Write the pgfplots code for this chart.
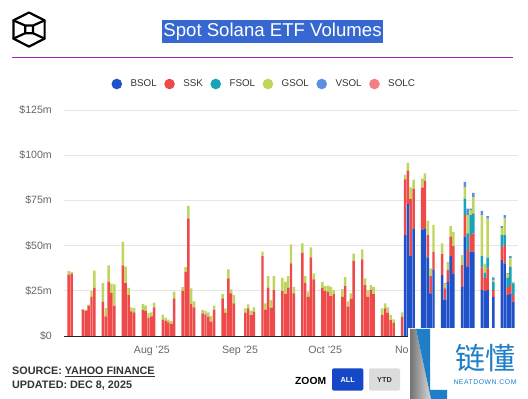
\documentclass[border=0pt]{standalone}
\usepackage{pgfplots}
\pgfplotsset{compat=1.18}
\usepackage{pgfplotstable}
\usepackage{fontspec}
\setmainfont{Liberation Sans}
\newfontfamily\cjk{Noto Sans CJK SC}
\newfontfamily\wmfont[LetterSpace=8]{Liberation Sans}
\definecolor{bsol}{RGB}{31,81,201}
\definecolor{ssk}{RGB}{239,74,74}
\definecolor{fsol}{RGB}{23,163,184}
\definecolor{gsol}{RGB}{191,214,94}
\definecolor{vsol}{RGB}{91,143,227}
\definecolor{solc}{RGB}{244,127,127}
\definecolor{titlebg}{RGB}{55,104,209}
\definecolor{purpleline}{RGB}{156,39,176}
\definecolor{ticktext}{RGB}{102,102,102}
\definecolor{legtext}{RGB}{51,51,51}
\definecolor{gridgray}{RGB}{230,230,230}
\definecolor{darktext}{RGB}{51,51,51}
\definecolor{btnblue}{RGB}{20,72,199}
\definecolor{btngray}{RGB}{220,220,220}
\definecolor{wmblue}{RGB}{30,127,200}

\pgfplotstableread{
d bsol ssk fsol gsol vsol solc
1 0 34 0 2 0 0
2 0 34.5 0 1 0 0
6 0 14.5 0 0.4 0 0
7 0 14.1 0 0.4 0 0
8 0 16.7 0 0.7 0 0
9 0 21.7 0 3.3 0 0
10 0 26.6 0 9.6 0 0
13 0 19 0 10.3 0 0
14 0 10.9 0 4.5 0 0
15 0 29.9 0 9.1 0 0
16 0 23.9 0 5.1 0 0
17 0 16.8 0 11.8 0 0
20 0 39 0 13 0 0
21 0 29.3 0 9.1 0 0
22 0 22.6 0 4 0 0
23 0 13.6 0 2.3 0 0
24 0 13 0 2.4 0 0
27 0 14.5 0 3.1 0 0
28 0 14.1 0 2.7 0 0
29 0 10 0 2.7 0 0
30 0 10.9 0 2.1 0 0
31 0 15.8 0 2.7 0 0
34 0 9 0 2.8 0 0
35 0 8.5 0 1.5 0 0
36 0 7.6 0 1.4 0 0
37 0 6.7 0 1.5 0 0
38 0 20.8 0 3.7 0 0
41 0 25 0 2 0 0
42 0 35.5 0 2.6 0 0
43 0 65 0 7 0 0
44 0 17.8 0 8.5 0 0
45 0 15.8 0 3.3 0 0
48 0 12.5 0 1.9 0 0
49 0 12 0 2 0 0
50 0 10.7 0 2.3 0 0
51 0 7.9 0 3.1 0 0
52 0 14.4 0 2.4 0 0
55 0 20.8 0 2.4 0 0
56 0 12.9 0 2.4 0 0
57 0 31.9 0 4.9 0 0
58 0 23.6 0 2.2 0 0
59 0 18 0 4.6 0 0
63 0 12.9 0 2.4 0 0
64 0 15.3 0 2.2 0 0
65 0 11.6 0 2.4 0 0
66 0 13.4 0 2.4 0 0
69 0 44.2 0 2.4 0 0
70 0 14.4 0 3.6 0 0
71 0 26.7 0 6.4 0 0
72 0 15.7 0 4.2 0 0
73 0 25.4 0 7.7 0 0
76 0 25 0 7.2 0 0
77 0 23.2 0 6.8 0 0
78 0 26.7 0 6.4 0 0
79 0 40.2 0 10.5 0 0
80 0 23.6 0 3.6 0 0
83 0 46 0 5.2 0 0
84 0 29.4 0 3.7 0 0
85 0 21.7 0 2.8 0 0
86 0 43.5 0 5.5 0 0
87 0 31.3 0 3.3 0 0
90 0 26.7 0 3.3 0 0
91 0 25 0 2.6 0 0
92 0 24.5 0 3.3 0 0
93 0 22.1 0 5.1 0 0
94 0 23.2 0 2.2 0 0
97 0 21.7 0 4.2 0 0
98 0 27.6 0 5 0 0
99 0 16.2 0 3 0 0
100 0 20.5 0 3.1 0 0
101 0 41.6 0 4 0 0
104 0 42.4 0 5.5 0 0
105 0 28.2 0 3.7 0 0
106 0 21.7 0 3.7 0 0
107 0 25.4 0 2.8 0 0
108 0 23.2 0 4 0 0
111 0 11.6 0 3.7 0 0
112 0 15.3 0 2.7 0 0
113 0 12.9 0 2.9 0 0
114 0 8.8 0 2.8 0 0
115 0 7.3 0 1.9 0 0
118 0 10.7 0 2.4 0 0
119 55.8 30.8 0 2.5 0 0
120 73 18.3 0 4.4 0 0
121 44.2 31.5 0 6.5 0 0
122 59.5 22 0 5 0 0
125 59 23 0 5 0 0
126 59.5 26.5 0 4 0 0
127 43.5 12.3 0 8 0 0
128 23.6 9.5 0 4.3 0 0
129 36.5 10 0 15 0 0
132 33.7 11.6 0 5.9 0 0
133 19.9 6.4 0 2.2 0 0.8
134 30 6.5 0 4.5 0 0
135 44.2 10.7 0 5.9 0 0
136 34.6 15.1 0 7.9 0 0
139 27.2 12 0 5.5 0 0
140 54.9 12 9.1 6.5 2.7 0
141 38.3 9.2 9.2 10.2 3.6 0
142 46.6 9.2 11.1 2.7 0.9 0
143 46.6 10.1 11.1 9.2 2.2 0
146 25.4 12.6 6.2 22.7 2.3 0
147 25 7 3 5 0 0
148 25.4 12 6 21.5 1.4 0
150 21.7 3.7 4.6 1 1.4 0
153 42 7.3 6.5 3.7 1.3 0
154 40.2 10.1 5.5 9.2 1.9 0
155 22.6 4 5.6 2 0 0.6
156 23.6 4.6 10.1 4.6 1.3 0
157 19 3.6 6.5 0.9 0 0
}\data

\begin{document}
\begin{tikzpicture}
\useasboundingbox (0,0) rectangle (528bp,399bp);
\fill[white] (0,0) rectangle (528bp,399bp);

\begin{scope}[x=1bp,y=-1bp,yshift=399bp]
  % logo
  \draw[line width=2.2bp, line join=round, line cap=round]
    (29,12.5) -- (44.6,20.4) -- (44.6,38.6) -- (29,46.6) -- (13.4,38.6) -- (13.4,20.4) -- cycle;
  \draw[line width=2.2bp, line join=round, line cap=round]
    (25.3,25.6) rectangle (33,33.2)
    (13.4,20.4) -- (25.3,25.6)
    (44.6,20.4) -- (33,25.6)
    (13.4,38.6) -- (25.3,33.2)
    (44.6,38.6) -- (33,33.2);
  % title
  \fill[titlebg] (161.7,20) rectangle (383.3,43.5);
  \node[text=white, inner sep=0pt, font=\fontsize{18.6bp}{21bp}\selectfont] at (272.5,31.6) {Spot Solana ETF Volumes};
  \draw[purpleline, line width=1bp] (12,57.3) -- (513,57.3);
\end{scope}

\begin{axis}[
  at={(64bp,63bp)}, anchor=south west, scale only axis,
  width=454bp, height=226bp,
  ybar stacked, bar width=0.86,
  xmin=-0.65, xmax=158.65, ymin=0, ymax=125,
  ytick={0,25,50,75,100,125},
  yticklabels={\$0,\$25m,\$50m,\$75m,\$100m,\$125m},
  xtick={30.2,61.1,91,121.8},
  xticklabels={Aug '25,Sep '25,Oct '25,Nov '25},
  ymajorgrids, grid style={draw=gridgray, line width=0.7bp},
  axis lines*=left, axis line style={-},
  y axis line style={draw=none},
  x axis line style={draw=black!85, line width=1bp},
  major tick length=0pt,
  tick label style={font=\fontsize{10.6bp}{12bp}\selectfont, text=ticktext},
  yticklabel style={inner sep=0pt, xshift=-12bp},
  xticklabel style={inner sep=0pt, yshift=-10bp},
  legend columns=6,
  legend cell align=left,
  legend style={at={(axis description cs:0.441,1.115)}, anchor=center,
    draw=none, fill=none, inner sep=0pt,
    font=\fontsize{9.8bp}{12bp}\selectfont, text=legtext,
    /tikz/every odd column/.append style={column sep=6.5bp},
    /tikz/every even column/.append style={column sep=5.5bp}},
]
\addplot[fill=bsol, draw=none, legend image code/.code={\fill[bsol] (0bp,0bp) circle (5.3bp);}] table[x=d,y=bsol] {\data};
\addplot[fill=ssk, draw=none, legend image code/.code={\fill[ssk] (0bp,0bp) circle (5.3bp);}] table[x=d,y=ssk] {\data};
\addplot[fill=fsol, draw=none, legend image code/.code={\fill[fsol] (0bp,0bp) circle (5.3bp);}] table[x=d,y=fsol] {\data};
\addplot[fill=gsol, draw=none, legend image code/.code={\fill[gsol] (0bp,0bp) circle (5.3bp);}] table[x=d,y=gsol] {\data};
\addplot[fill=vsol, draw=none, legend image code/.code={\fill[vsol] (0bp,0bp) circle (5.3bp);}] table[x=d,y=vsol] {\data};
\addplot[fill=solc, draw=none, legend image code/.code={\fill[solc] (0bp,0bp) circle (5.3bp);}] table[x=d,y=solc] {\data};
\legend{BSOL,SSK,FSOL,GSOL,VSOL,SOLC}
\end{axis}

\begin{scope}[x=1bp,y=-1bp,yshift=399bp]
  % footer texts
  \node[anchor=base west, inner sep=0pt, text=darktext, font=\bfseries\fontsize{10.8bp}{12bp}\selectfont] at (12,374.6) {SOURCE: \underline{YAHOO FINANCE}};
  \node[anchor=base west, inner sep=0pt, text=darktext, font=\bfseries\fontsize{10.8bp}{12bp}\selectfont] at (12,388.2) {UPDATED: DEC 8, 2025};
  \node[anchor=base west, inner sep=0pt, text=black, font=\bfseries\fontsize{10.3bp}{12bp}\selectfont] at (295,384.4) {ZOOM};
  \fill[btnblue, rounded corners=1.5bp] (332,368.3) rectangle (363.3,390.7);
  \node[text=white, inner sep=0pt, font=\bfseries\fontsize{7.3bp}{9bp}\selectfont] at (347.7,379.6) {ALL};
  \fill[btngray, rounded corners=1.5bp] (369,368.3) rectangle (400,390.7);
  \node[text=darktext, inner sep=0pt, font=\bfseries\fontsize{7.3bp}{9bp}\selectfont] at (384.5,379.6) {YTD};
  % watermark
  \fill[white] (408,328) rectangle (528,399);
  \shade[left color=black!55, right color=black!15] (410,329) -- (416,329) -- (431,399) -- (410,399) -- cycle;
  \fill[wmblue] (416,329) -- (430,329) -- (430,390) -- (447,390) -- (447,399) -- (431,399) -- cycle;
  \node[text=wmblue, inner sep=0pt, font=\cjk\fontsize{30bp}{32bp}\selectfont] at (485,358) {链懂};
  \node[text=wmblue, inner sep=0pt, font=\wmfont\fontsize{6.8bp}{8bp}\selectfont] at (485,382.5) {NEATDOWN.COM};
\end{scope}
\end{tikzpicture}
\end{document}
